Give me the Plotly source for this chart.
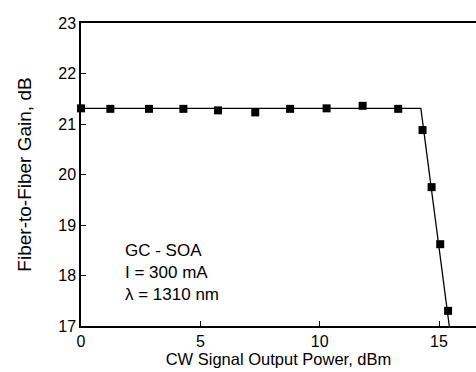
import plotly.graph_objects as go

# Measured data points
power_dbm = [0.0, 1.23, 2.85, 4.29, 5.74, 7.30, 8.76, 10.29, 11.80, 13.29, 14.31, 14.69, 15.05, 15.38]
gain_db = [21.31, 21.30, 21.30, 21.30, 21.27, 21.23, 21.30, 21.31, 21.36, 21.30, 20.88, 19.75, 18.62, 17.30]

# Fitted trend line (flat, then saturation roll-off)
fit_x = [0.0, 14.24, 15.43]
fit_y = [21.31, 21.31, 17.0]

x_ticks = [0, 5, 10, 15]
y_ticks = [17, 18, 19, 20, 21, 22, 23]

FONT = "Liberation Sans, Arial, sans-serif"

fig = go.Figure()
fig.add_trace(go.Scatter(x=fit_x, y=fit_y, mode="lines",
                         line=dict(color="black", width=1.3),
                         cliponaxis=False, showlegend=False, hoverinfo="skip"))
fig.add_trace(go.Scatter(x=power_dbm, y=gain_db, mode="markers",
                         marker=dict(symbol="square", size=8, color="black"),
                         cliponaxis=False, showlegend=False))

fig.add_annotation(x=1.76, y=18.06, xref="x", yref="y",
                   text="GC - SOA<br>I = 300 mA<br>λ = 1310 nm",
                   showarrow=False, xanchor="left", yanchor="middle", align="left",
                   font=dict(family=FONT, size=17, color="black"))

fig.update_xaxes(range=[0, 16.55], tickvals=x_ticks, ticks="inside", ticklen=5,
                 tickcolor="black", showline=True, linecolor="black", linewidth=1.5,
                 mirror=True, showgrid=False, zeroline=False,
                 tickfont=dict(family=FONT, size=16, color="black"),
                 title=dict(text="CW Signal Output Power, dBm", standoff=4,
                            font=dict(family=FONT, size=16.5, color="black")))
fig.update_yaxes(range=[17, 23], tickvals=y_ticks, ticks="inside", ticklen=5,
                 tickcolor="black", showline=True, linecolor="black", linewidth=1.5,
                 showgrid=False, zeroline=False,
                 tickfont=dict(family=FONT, size=16, color="black"),
                 title=dict(text="Fiber-to-Fiber Gain, dB", standoff=22,
                            font=dict(family=FONT, size=19, color="black")))

fig.update_layout(width=476, height=372, margin=dict(l=81, r=0, t=23, b=46),
                  plot_bgcolor="white", paper_bgcolor="white")

fig.write_html("out.html")
